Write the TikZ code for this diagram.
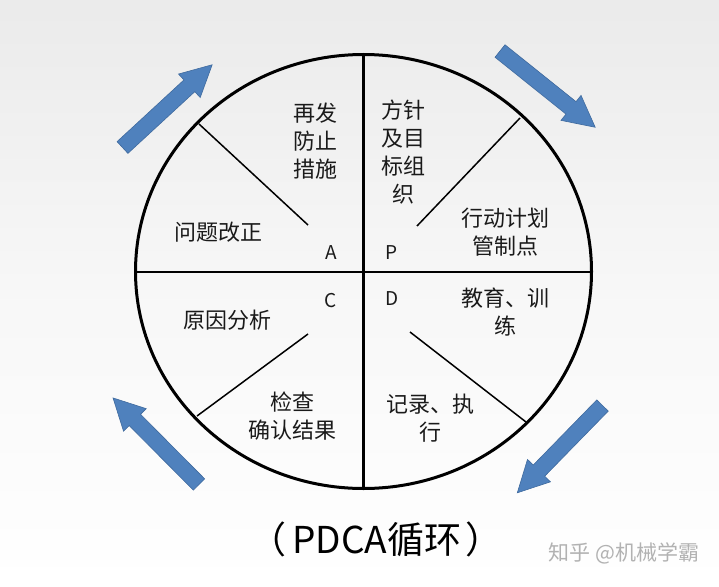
\documentclass[tikz,border=0pt]{standalone}
\usepackage{fontspec}
\usetikzlibrary{shapes.geometric}
\newfontfamily\cjk{Noto Sans CJK SC}
\definecolor{arrblue}{HTML}{4F81BD}
\definecolor{arredge}{HTML}{3F6A9E}
\definecolor{txt}{HTML}{1A1A1A}
\begin{document}
\begin{tikzpicture}[x=1pt,y=-1pt,
  cn/.style={font=\cjk\fontsize{22}{28}\selectfont, text=txt, align=center, inner sep=0pt},
  ltr/.style={font=\cjk\fontsize{19}{22}\selectfont, text=txt, inner sep=0pt},
  divider/.style={line width=2.4pt, black},
  diag/.style={line width=1.5pt, black},
  blockarrow/.style={fill=arrblue, draw=arredge, line width=0.6pt, line join=miter}
]
\useasboundingbox (0,0) rectangle (719,586);
\shade[top color=black!8, bottom color=white, middle color=black!3] (0,0) rectangle (719,586);

% block arrows
\newcommand{\blkarrow}[3]{%
  \begin{scope}[shift={(#1,#2)}, rotate=#3]
    \path[blockarrow] (0,-8) -- (91,-8) -- (91,-16) -- (122,0) -- (91,16) -- (91,8) -- (0,8) -- cycle;
  \end{scope}}
\blkarrow{122.5}{147.5}{42.7}
\blkarrow{500}{51}{-38.7}
\blkarrow{199}{484.5}{134.8}
\blkarrow{602.5}{405.5}{-134.3}

% circle and dividers
\node[draw, line width=3pt, ellipse, minimum width=456pt, minimum height=434pt, inner sep=0pt] (c) at (363.5,271.5) {};
\coordinate (top) at (363.5,54);
\coordinate (bot) at (363.5,489);
\coordinate (lft) at (135,272);
\coordinate (rgt) at (592,272);
\draw[divider] (top) -- (bot);
\draw[divider] (lft) -- (rgt);

\coordinate (d1a) at (199,124);
\coordinate (d1b) at (308,225);
\coordinate (d2a) at (520,118);
\coordinate (d2b) at (417,226);
\coordinate (d3a) at (197,416);
\coordinate (d3b) at (308,334);
\coordinate (d4a) at (410,332);
\coordinate (d4b) at (526,422);
\draw[diag] (d1a) -- (d1b);
\draw[diag] (d2a) -- (d2b);
\draw[diag] (d3a) -- (d3b);
\draw[diag] (d4a) -- (d4b);

% texts
\node[cn] (t1) at (315,141) {再发\\防止\\措施};
\node[cn] (t2) at (403,152) {方针\\及目\\标组\\织};
\node[cn] (t3) at (218,232) {问题改正};
\node[cn] (t4) at (505,232) {行动计划\\管制点};
\node[cn] (t5) at (227,320) {原因分析};
\node[cn] (t6) at (505,312) {教育、训\\练};
\node[cn] (t7) at (292,416) {检查\\确认结果};
\node[cn] (t8) at (430,418) {记录、执\\行};

\node[ltr] (la) at (331,253) {A};
\node[ltr] (lp) at (392,253) {P};
\node[ltr] (lc) at (331,301) {C};
\node[ltr] (ld) at (392,299) {D};

\node[font=\cjk\fontsize{37}{40}\selectfont, text=black, inner sep=0pt] (title) at (376,539) {（\hspace{6pt}PDCA循环\hspace{4pt}）};
\node[font=\cjk\fontsize{21}{24}\selectfont, text=black!30, inner sep=0pt] (wm) at (624,553) {知乎 @机械学霸};
\end{tikzpicture}
\end{document}
